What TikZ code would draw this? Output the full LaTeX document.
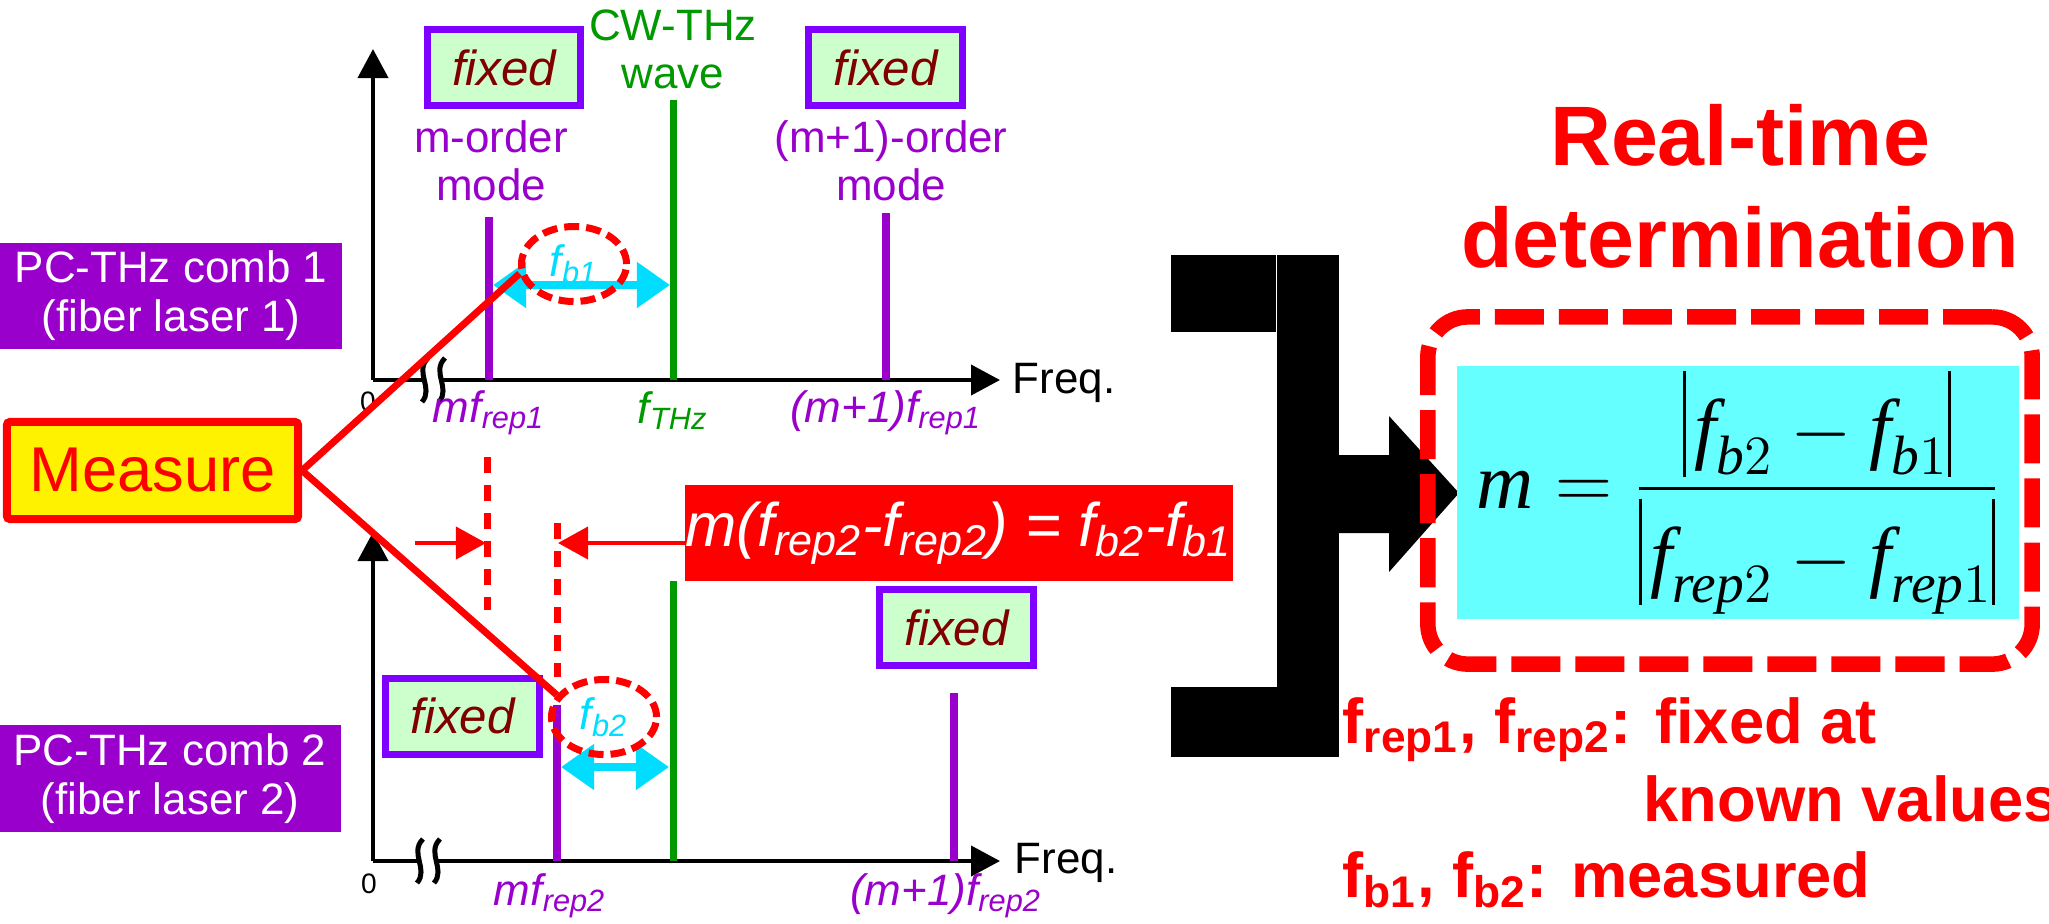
\RequirePackage{fix-cm}
\documentclass[tikz,border=0pt]{standalone}
\usepackage{fontspec}
\setmainfont{Liberation Sans}
\newfontfamily\eqfont{Liberation Serif}
\usepackage{amsmath}
\usetikzlibrary{arrows.meta,positioning,shapes.geometric,calc}
\definecolor{ModeViolet}{HTML}{9900CC}
\definecolor{FrameViolet}{HTML}{8000FF}
\definecolor{FixGreen}{HTML}{CCFFCC}
\definecolor{FixRed}{HTML}{800000}
\definecolor{WaveGreen}{HTML}{009900}
\definecolor{BeatCyan}{HTML}{00DDFF}
\definecolor{EqCyan}{HTML}{66FFFF}
\newcommand\eqbar{\mathord{\vrule width 0.03cm height 0.84cm depth 0.22cm}}

\begin{document}
\begin{tikzpicture}[x=0.01cm, y=-0.01cm,
  fixbox/.style={draw=FrameViolet, line width=0.07cm, fill=FixGreen, minimum width=1.53cm, minimum height=0.76cm, inner sep=0pt, text=FixRed, font=\fontsize{14}{16}\selectfont\itshape},
  combbox/.style={fill=ModeViolet, text=white, minimum width=3.41cm, minimum height=1.06cm, inner sep=0pt, align=center, font=\fontsize{12.5}{13.9}\selectfont},
  lbl/.style={inner sep=0pt, align=center, font=\fontsize{12.5}{13.7}\selectfont},
  axisarr/.style={line width=0.04cm, -{Triangle[length=0.29cm, width=0.3cm]}},
  modeline/.style={line width=0.08cm, ModeViolet},
  waveline/.style={line width=0.07cm, WaveGreen},
  beatarr/.style={line width=0.08cm, BeatCyan, {Triangle[length=0.33cm, width=0.44cm]}-{Triangle[length=0.33cm, width=0.44cm]}},
  ring/.style={ellipse, draw=red, line width=0.07cm, dash pattern=on 0.15cm off 0.07cm, minimum width=1.05cm, minimum height=0.75cm, inner sep=0pt, text=BeatCyan, font=\fontsize{12.5}{14}\selectfont\itshape},
  redline/.style={red, line width=0.07cm},
  guide/.style={red, line width=0.07cm, dash pattern=on 0.16cm off 0.12cm},
  gaparr/.style={red, line width=0.04cm, -{Triangle[length=0.3cm, width=0.32cm]}},
  brk/.style={line width=0.05cm},
  note/.style={inner sep=0pt, anchor=base west, text=red, font=\fontsize{18}{21}\selectfont\bfseries}
]
\useasboundingbox (0,0) rectangle (2049,923);

\node[combbox] (comba) at (171,296) {PC-THz comb 1\\(fiber laser 1)};
\node[combbox] (combb) at (170,778.5) {PC-THz comb 2\\(fiber laser 2)};
\node[draw=red, line width=0.08cm, fill=yellow, rounded corners=0.03cm, minimum width=2.91cm, minimum height=0.97cm, inner sep=0pt, text=red, font=\fontsize{18}{21}\selectfont] (measure) at (152.5,470.5) {Measure};

% comb 1
\draw[axisarr] (373,380) -- (373,49);
\draw[axisarr] (373,380) -- (1000,380);
\fill[white] (426,370) rectangle (440,390);
\draw[brk] (428,358) .. controls (414,372) and (434,388) .. (422,402);
\draw[brk] (445,358) .. controls (431,372) and (451,388) .. (439,402);
\node[lbl, font=\fontsize{8}{9}\selectfont] (zeroa) at (368,402) {0};
\node[lbl, anchor=base west] (freqa) at (1012,393) {Freq.};
\draw[modeline] (489,217) -- (489,380);
\draw[waveline] (673,100) -- (673,380);
\draw[modeline] (886,213) -- (886,380);
\node[fixbox] (fixa) at (504,67.5) {fixed};
\node[fixbox] (fixb) at (885.5,67.5) {fixed};
\node[lbl, anchor=north, text=ModeViolet] (morda) at (491,120) {m-order\\mode};
\node[lbl, anchor=north, text=ModeViolet] (mordb) at (891,120) {(m+1)-order\\mode};
\node[lbl, anchor=north, text=WaveGreen] (cwthz) at (673,9) {CW-THz\\wave};
\node[lbl, anchor=base, text=ModeViolet, font=\fontsize{12.5}{14}\selectfont\itshape] (mfa) at (489,422) {mf\textsubscript{rep1}};
\node[lbl, anchor=base, text=WaveGreen, font=\fontsize{12.5}{14}\selectfont\itshape] (fthz) at (673,423) {f\textsubscript{THz}};
\node[lbl, anchor=base, text=ModeViolet, font=\fontsize{12.5}{14}\selectfont\itshape] (mfb) at (886,422) {(m+1)f\textsubscript{rep1}};
\coordinate (ba) at (493,285);
\coordinate (bb) at (670,285);
\draw[beatarr] (ba) -- (bb);
\node[ring] (ringa) at (574,264) {f\textsubscript{b1}};

% comb 2
\draw[axisarr] (373,861) -- (373,532);
\draw[axisarr] (373,861) -- (1000,861);
\fill[white] (421,851) rectangle (435,871);
\draw[brk] (423,839) .. controls (409,853) and (429,869) .. (417,883);
\draw[brk] (440,839) .. controls (426,853) and (446,869) .. (434,883);
\node[lbl, font=\fontsize{8}{9}\selectfont] (zerob) at (369,884) {0};
\node[lbl, anchor=base west] (freqb) at (1014,873) {Freq.};
\draw[modeline] (557,705) -- (557,861);
\draw[waveline] (673,581) -- (673,861);
\draw[modeline] (954,693) -- (954,861);
\node[fixbox] (fixc) at (462.5,716) {fixed};
\node[fixbox] (fixd) at (956.5,627.5) {fixed};
\node[lbl, anchor=base, text=ModeViolet, font=\fontsize{12.5}{14}\selectfont\itshape] (mfc) at (550,905) {mf\textsubscript{rep2}};
\node[lbl, anchor=base, text=ModeViolet, font=\fontsize{12.5}{14}\selectfont\itshape] (mfd) at (946,905) {(m+1)f\textsubscript{rep2}};
\coordinate (bc) at (561,767);
\coordinate (bd) at (669,767);
\draw[beatarr] (bc) -- (bd);
\node[ring] (ringb) at (604,717) {f\textsubscript{b2}};

% difference
\node[fill=red, minimum width=5.46cm, minimum height=0.96cm, inner sep=0pt, text=white, font=\fontsize{17.5}{20}\selectfont\itshape] (eqred) at (959,533) {m(f\textsubscript{rep2}-f\textsubscript{rep2}) = f\textsubscript{b2}-f\textsubscript{b1}};
\coordinate (ga) at (487,457);
\coordinate (gb) at (487,610);
\coordinate (gc) at (557,523);
\coordinate (gd) at (557,677);
\draw[guide] (ga) -- (gb);
\draw[guide] (gc) -- (gd);
\coordinate (la) at (415,543);
\coordinate (lb) at (486,543);
\coordinate (lc) at (558,543);
\draw[gaparr] (la) -- (lb);
\draw[gaparr] (eqred.west |- lc) -- (lc);
\draw[redline] (measure.east) -- (ringa.190);
\draw[redline] (measure.east) -- (ringb.155);

% determination
\fill (1171,255) rectangle (1276,332);
\fill (1277,255) rectangle (1339,757);
\fill (1171,687) rectangle (1339,757);
\fill (1339,455) -- (1389,455) -- (1389,416) -- (1459,493) -- (1389,572) -- (1389,533) -- (1339,533) -- cycle;
\node[inner sep=0pt, anchor=north, align=center, text=red, font=\fontsize{24}{28.9}\selectfont\bfseries] (title) at (1740,104) {Real-time\\determination};
\node[fill=EqCyan, minimum width=5.61cm, minimum height=2.53cm, inner sep=0pt, font=\fontsize{22.5}{27}\selectfont\eqfont] (eqbox) at (1738,492.5) {$\displaystyle \textit{m}=\frac{\eqbar\mkern2mu\textit{f}_{\textit{b}2}-\textit{f}_{\textit{b}1}\eqbar}{\eqbar\mkern2mu\textit{f}_{\textit{rep}2}-\textit{f}_{\textit{rep}1}\eqbar}$};
\node[draw=red, line width=0.155cm, dash pattern=on 0.49cm off 0.15cm, rounded corners=0.4cm, minimum width=6.04cm, minimum height=3.47cm] (eqframe) at (1730,490.5) {};
\node[note] (notea) at (1342,743) {f\textsubscript{rep1}, f\textsubscript{rep2}: fixed at};
\node[note] (noteb) at (1643,821) {known values};
\node[note] (notec) at (1342,897) {f\textsubscript{b1}, f\textsubscript{b2}: measured};
\end{tikzpicture}
\end{document}
